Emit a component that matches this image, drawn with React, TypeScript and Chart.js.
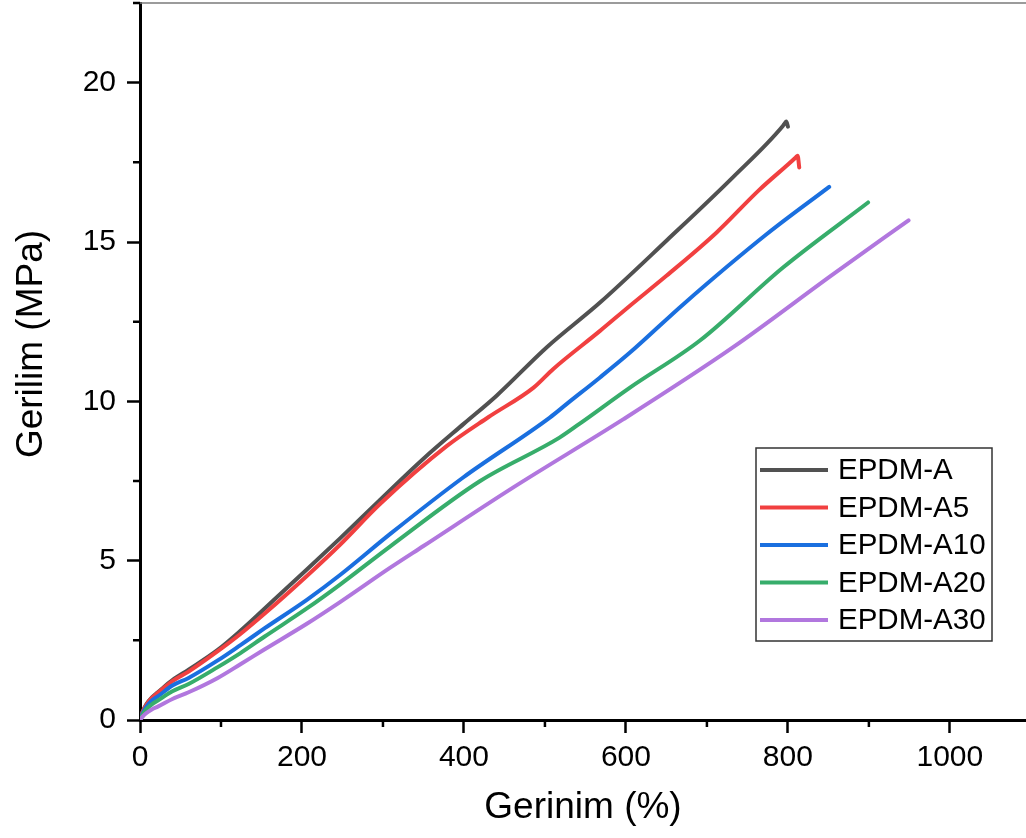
import React, { useEffect, useRef } from "react";
import { Chart, registerables } from "chart.js";

Chart.register(...registerables);

const FONT = "'Liberation Sans', Arial, sans-serif";

const seriesLabels = ["EPDM-A", "EPDM-A5", "EPDM-A10", "EPDM-A20", "EPDM-A30"];
const seriesColors = ["#515151", "#F14040", "#1A6FDF", "#37AD6B", "#B177DE"];

const strainA = [0, 3, 8, 15, 22, 40, 60, 96, 124, 154, 206, 247, 296, 350, 400, 440, 502, 568, 650, 732, 794, 796, 798, 800];
const stressA = [0, 0.25, 0.5, 0.72, 0.87, 1.25, 1.58, 2.2, 2.8, 3.5, 4.72, 5.7, 6.9, 8.2, 9.3, 10.17, 11.69, 13.1, 15.04, 17.03, 18.65, 18.72, 18.78, 18.62];

const strainA5 = [0, 3, 8, 15, 22, 40, 60, 96, 124, 154, 206, 247, 296, 379, 430, 486, 510, 568, 605, 650, 712, 764, 810, 812, 814];
const stressA5 = [0, 0.24, 0.48, 0.7, 0.85, 1.22, 1.52, 2.16, 2.7, 3.34, 4.52, 5.5, 6.77, 8.6, 9.5, 10.43, 11.01, 12.21, 13.0, 13.94, 15.3, 16.62, 17.66, 17.71, 17.34];

const strainA10 = [0, 3, 8, 15, 22, 40, 60, 96, 124, 154, 206, 247, 309, 399, 506, 527, 568, 605, 671, 774, 851];
const stressA10 = [0, 0.2, 0.42, 0.62, 0.74, 1.08, 1.32, 1.87, 2.35, 2.88, 3.77, 4.55, 5.84, 7.61, 9.49, 9.92, 10.75, 11.53, 13.05, 15.25, 16.73];

const strainA20 = [0, 3, 8, 15, 22, 40, 60, 96, 124, 154, 206, 247, 309, 420, 518, 543, 605, 691, 794, 899];
const stressA20 = [0, 0.16, 0.34, 0.5, 0.61, 0.9, 1.13, 1.66, 2.1, 2.62, 3.5, 4.25, 5.45, 7.5, 8.86, 9.3, 10.43, 11.9, 14.2, 16.24];

const strainA30 = [0, 3, 8, 15, 22, 40, 60, 96, 124, 154, 206, 247, 309, 350, 461, 597, 732, 856, 949];
const stressA30 = [0, 0.1, 0.22, 0.34, 0.42, 0.66, 0.87, 1.32, 1.75, 2.22, 3.02, 3.7, 4.78, 5.46, 7.3, 9.44, 11.69, 13.99, 15.68];

const xTitle = "Gerinim (%)";
const yTitle = "Gerilim (MPa)";
const xMin = 0;
const xMax = 1094;
const xStep = 200;
const xMinorTicks = [100, 300, 500, 700, 900];
const yMin = 0;
const yMax = 22.5;
const yStep = 5;
const yMinorTicks = [2.5, 7.5, 12.5, 17.5, 22.5];

const allStrains = [strainA, strainA5, strainA10, strainA20, strainA30];
const allStresses = [stressA, stressA5, stressA10, stressA20, stressA30];

const extrasPlugin = {
  id: "extras",
  afterDraw(chart: any) {
    const { ctx, chartArea, scales } = chart;
    const xs = scales.x;
    const ys = scales.y;
    ctx.save();
    ctx.strokeStyle = "#7a7a7a";
    ctx.lineWidth = 1.6;
    ctx.beginPath();
    ctx.moveTo(chartArea.left, chartArea.top);
    ctx.lineTo(chartArea.right, chartArea.top);
    ctx.stroke();
    ctx.strokeStyle = "#000";
    ctx.lineWidth = 2.5;
    ctx.beginPath();
    xMinorTicks.forEach((v) => {
      const px = xs.getPixelForValue(v);
      if (px > chartArea.right) return;
      ctx.moveTo(px, chartArea.bottom);
      ctx.lineTo(px, chartArea.bottom + 7);
    });
    yMinorTicks.forEach((v) => {
      const py = ys.getPixelForValue(v);
      ctx.moveTo(chartArea.left, py);
      ctx.lineTo(chartArea.left - 7, py);
    });
    ctx.stroke();
    // y axis title
    ctx.save();
    ctx.translate(32, 344);
    ctx.rotate(-Math.PI / 2);
    ctx.font = `37px ${FONT}`;
    ctx.fillStyle = "#000";
    ctx.textAlign = "center";
    ctx.textBaseline = "middle";
    ctx.fillText(yTitle, 0, 0);
    ctx.restore();
    // legend
    const bx = 756, by = 448, bw = 236, bh = 193;
    ctx.fillStyle = "#fff";
    ctx.fillRect(bx, by, bw, bh);
    ctx.strokeStyle = "#333";
    ctx.lineWidth = 1.5;
    ctx.strokeRect(bx, by, bw, bh);
    ctx.font = `29.5px ${FONT}`;
    ctx.textBaseline = "middle";
    ctx.textAlign = "left";
    chart.data.datasets.forEach((ds: any, i: number) => {
      const yy = 470 + i * 37.5;
      ctx.strokeStyle = ds.borderColor;
      ctx.lineWidth = 4;
      ctx.beginPath();
      ctx.moveTo(760, yy);
      ctx.lineTo(828, yy);
      ctx.stroke();
      ctx.fillStyle = "#000";
      ctx.fillText(ds.label, 838, yy + 1);
    });
    ctx.restore();
  },
};

export default function App() {
  const ref = useRef<HTMLCanvasElement | null>(null);
  useEffect(() => {
    if (!ref.current) return;
    const datasets = seriesLabels.map((label, i) => ({
      label,
      data: allStrains[i].map((x, j) => ({ x, y: allStresses[i][j] })),
      borderColor: seriesColors[i],
      backgroundColor: seriesColors[i],
      borderWidth: 4,
      pointRadius: 0,
      cubicInterpolationMode: "monotone" as const,
      borderJoinStyle: "round" as const,
      borderCapStyle: "round" as const,
      fill: false,
      order: seriesLabels.length - i,
    }));
    const chart = new Chart(ref.current, {
      type: "line",
      data: { datasets },
      plugins: [extrasPlugin],
      options: {
        animation: false,
        responsive: false,
        devicePixelRatio: 1,
        layout: { padding: { top: 3, right: 0, left: 0, bottom: 0 } },
        plugins: {
          legend: { display: false },
          tooltip: { enabled: false },
        },
        scales: {
          x: {
            type: "linear",
            min: xMin,
            max: xMax,
            border: { display: true, color: "#000", width: 3 },
            grid: {
              display: true,
              drawOnChartArea: false,
              drawTicks: true,
              tickLength: 13,
              tickWidth: 2.5,
              tickColor: "#000",
            },
            ticks: {
              stepSize: xStep,
              includeBounds: false,
              autoSkip: false,
              maxRotation: 0,
              color: "#000",
              padding: 7,
              font: { family: FONT, size: 30 },
              callback: (v: any) => String(v),
            },
            title: {
              display: true,
              text: xTitle,
              color: "#000",
              font: { family: FONT, size: 37 },
              padding: { top: 0, bottom: 8 },
            },
            afterFit: (s: any) => {
              s.height = 118;
              s.paddingLeft = 0;
              s.paddingRight = 0;
            },
          },
          y: {
            type: "linear",
            min: yMin,
            max: yMax,
            border: { display: true, color: "#000", width: 3 },
            grid: {
              display: true,
              drawOnChartArea: false,
              drawTicks: true,
              tickLength: 13,
              tickWidth: 2.5,
              tickColor: "#000",
            },
            ticks: {
              stepSize: yStep,
              includeBounds: false,
              color: "#000",
              padding: 11,
              font: { family: FONT, size: 30 },
              callback: (v: any) => String(v),
            },
            title: { display: false, text: yTitle },
            afterFit: (s: any) => {
              s.width = 140;
              s.paddingTop = 0;
              s.paddingBottom = 0;
            },
          },
        },
      },
    });
    return () => chart.destroy();
  }, []);
  return (
    <div style={{ position: "fixed", left: 0, top: 0, width: 1026, height: 838, background: "#fff" }}>
      <canvas ref={ref} width={1026} height={838} style={{ width: 1026, height: 838, display: "block" }} />
    </div>
  );
}
